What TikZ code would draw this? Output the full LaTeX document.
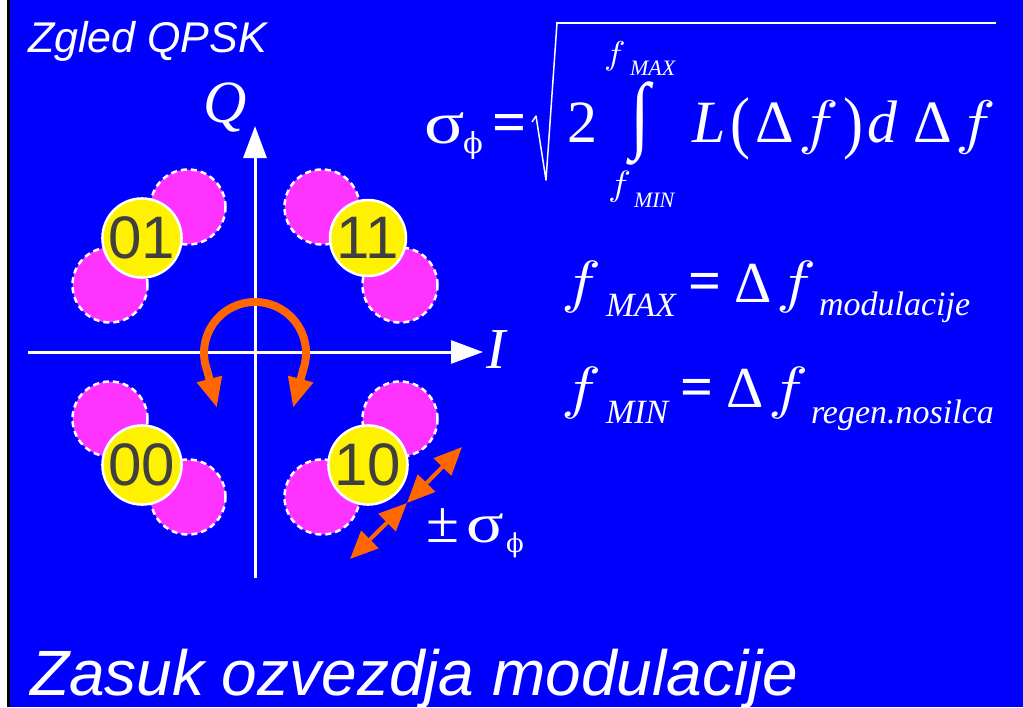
\documentclass[tikz,border=0pt]{standalone}
\usepackage{graphicx}
\usepackage{fontspec}
\setmainfont{Liberation Serif}
\newfontfamily\arialf{Liberation Sans}
\newfontfamily\dvserif{DejaVu Serif}
\usetikzlibrary{arrows.meta}
\definecolor{bgblue}{HTML}{0000FF}
\definecolor{pinkf}{HTML}{FF33FF}
\definecolor{orng}{HTML}{FF6600}
\definecolor{digit}{HTML}{404040}
\newcommand{\fs}[1]{\fontsize{#1}{#1}\selectfont}
\newcommand{\wf}[2]{\scalebox{#1}[#2]{\fontsize{10}{12}\selectfont$f$}}
\newcommand{\wsig}{\scalebox{1.25}[1]{σ}}
\newcommand{\sphi}{{\dvserif ϕ}}
\begin{document}
\begin{tikzpicture}[x=1pt,y=-1pt,
 txt/.style={inner sep=0,outer sep=0,text=white,anchor=base west},
 axisline/.style={white,line width=3pt,-{Triangle[length=32pt,width=23pt]}},
 pinkc/.style={circle,fill=pinkf,draw=white,line width=2.5pt,dash pattern=on 6pt off 4pt,minimum size=75pt,inner sep=0},
 ptc/.style={circle,fill=yellow,draw=white,line width=2.5pt,minimum size=76pt,inner sep=0,text=digit,font=\arialf\fs{60}},
 rotarrow/.style={orng,line width=8pt,{Triangle[length=30pt,width=24pt]}-{Triangle[length=30pt,width=24pt]}},
 sarrow/.style={orng,line width=4pt,{Triangle[length=28pt,width=24pt]}-{Triangle[length=28pt,width=24pt]}}
]
\useasboundingbox (0,0) rectangle (1023,707);
\fill[white] (0,0) rectangle (7,707);
\fill[black] (7,0) rectangle (10,707);
\fill[bgblue] (10,0) rectangle (1023,707);

% titles
\node[txt] (title) at (28,52) {\arialf\itshape\fs{43}Zgled QPSK};
\node[txt] (caption) at (30,695) {\arialf\itshape\fs{64}Zasuk ozvezdja modulacije};

% axes
\coordinate (qbot) at (255,578);
\coordinate (qtop) at (255,126);
\coordinate (ileft) at (28,352);
\coordinate (iright) at (483,352);
\draw[axisline] (qbot) -- (qtop);
\draw[axisline] (ileft) -- (iright);
\node[txt] (qlab) at (203,122) {\itshape\fs{60}Q};
\node[txt] (ilab) at (486,368) {\itshape\fs{58}I};

% rotated points
\node[pinkc] (p01a) at (188,207) {};
\node[pinkc] (p01b) at (110,285) {};
\node[pinkc] (p11a) at (322,207) {};
\node[pinkc] (p11b) at (400,285) {};
\node[pinkc] (p00a) at (110,419) {};
\node[pinkc] (p00b) at (188,497) {};
\node[pinkc] (p10a) at (400,419) {};
\node[pinkc] (p10b) at (322,497) {};

% constellation points
\node[ptc] (n01) at (142,238) {01};
\node[ptc] (n11) at (368,238) {11};
\node[ptc] (n00) at (142,465) {00};
\node[ptc] (n10) at (368,465) {10};

% rotation arrow
\coordinate (rtipL) at (217,408);
\coordinate (rtipR) at (293,408);
\coordinate (rarcL) at (207.1,370.4);
\draw[rotarrow] (rtipL) -- (rarcL) arc[start angle=160,end angle=380,radius=51] -- (rtipR);

% +- sigma arrows
\coordinate (sc) at (407,503);
\coordinate (sa) at (462,447);
\coordinate (sb) at (350,559);
\draw[sarrow] (sc) -- (sa);
\draw[sarrow] (sc) -- (sb);
\node[txt] (pm) at (426,542) {\fs{60}±};
\node[txt] (pmsig) at (466,542) {\fs{56}\wsig};
\node[txt] (pmphi) at (506,552) {\fs{26}\sphi};

% main equation
\node[txt] (eqsig) at (424,143) {\fs{60}\wsig};
\node[txt] (eqphi) at (463,153) {\fs{29}\sphi};
\node[txt] (eqeq) at (492,142) {\fs{60}\bfseries =};
\draw[white,line width=1.5pt,line join=round] (532,122) -- (536,116) -- (546,180) -- (557,23);
\draw[white,line width=2.5pt] (556,23) -- (996,23);
\node[txt] (eqtwo) at (567,142) {\fs{60}2};
\node[txt,anchor=center] (eqint) at (640,124) {\fs{60}\scalebox{1.2}[1.42]{∫}};
\node[txt] (eqfmax) at (604,64) {\wf{3.6}{3.3}};
\node[txt] (eqmax) at (630,75) {\itshape\fs{22}MAX};
\node[txt] (eqfmin) at (608,195) {\wf{3.85}{3.5}};
\node[txt] (eqmin) at (634,207) {\itshape\fs{22}MIN};
\node[txt] (eqL) at (692,142) {\itshape\fs{60}L};
\node[txt] (eqlp) at (730,142) {\fs{60}\raisebox{-3pt}{\scalebox{1}[1.15]{(}}};
\node[txt] (eqD1) at (755,142) {\fs{60}Δ};
\node[txt] (eqf1) at (798,142) {\wf{6.8}{6.0}};
\node[txt] (eqrp) at (843,142) {\fs{60}\raisebox{-3pt}{\scalebox{1}[1.15]{)}}};
\node[txt] (eqd) at (867,142) {\itshape\fs{60}d};
\node[txt] (eqD2) at (913,142) {\fs{60}Δ};
\node[txt] (eqf2) at (955,142) {\wf{6.8}{6.0}};

% f_MAX line
\node[txt] (fa) at (561,301) {\wf{6.7}{5.8}};
\node[txt] (fasub) at (606,316) {\itshape\fs{34}MAX};
\node[txt] (faeq) at (688,300) {\fs{58}\bfseries =};
\node[txt] (faD) at (734,302) {\fs{58}Δ};
\node[txt] (faf) at (776,301) {\wf{6.7}{5.8}};
\node[txt] (fasub2) at (819,315) {\itshape\fs{34}modulacije};

% f_MIN line
\node[txt] (fb) at (561,407) {\wf{6.7}{5.8}};
\node[txt] (fbsub) at (606,423) {\itshape\fs{34}MIN};
\node[txt] (fbeq) at (680,406) {\fs{58}\bfseries =};
\node[txt] (fbD) at (726,407) {\fs{58}Δ};
\node[txt] (fbf) at (768,407) {\wf{6.7}{5.8}};
\node[txt] (fbsub2) at (811,423) {\itshape\fs{34}regen.nosilca};
\end{tikzpicture}
\end{document}
